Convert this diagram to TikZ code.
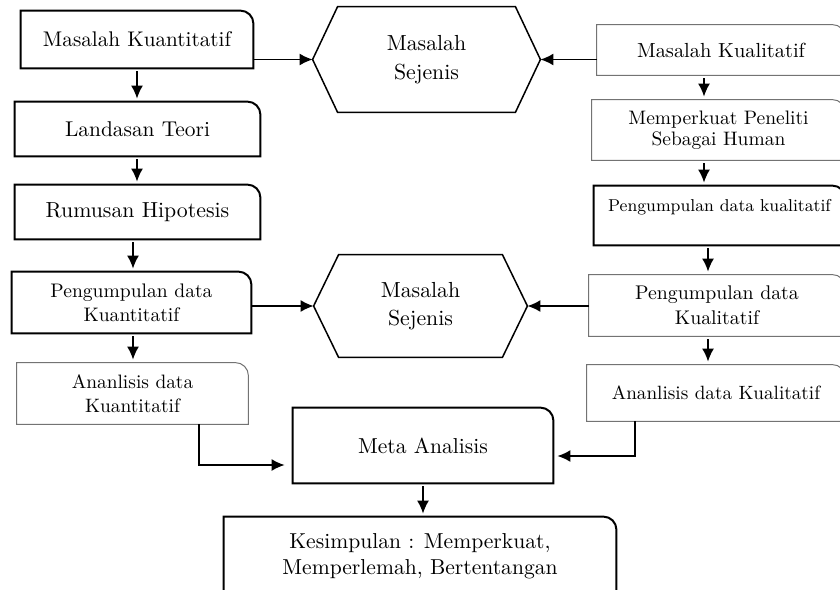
\documentclass[tikz,border=0pt]{standalone}
\usetikzlibrary{arrows.meta}

% kotak dengan satu sudut kanan atas membulat
\newcommand{\sudutbox}[2]{\draw[#1] (#2.south west) -- (#2.north west) -- ([xshift=-6.5pt]#2.north east)
  arc[start angle=90,end angle=0,radius=6.5pt] -- (#2.south east) -- cycle;}
% segi enam untuk masalah sejenis
\newcommand{\hexbox}[1]{\draw[line width=0.75pt] (#1.west) -- ([xshift=12.5pt]#1.north west) -- ([xshift=-12.5pt]#1.north east)
  -- (#1.east) -- ([xshift=-12.5pt]#1.south east) -- ([xshift=12.5pt]#1.south west) -- cycle;}

\begin{document}
\begin{tikzpicture}[x=0.5pt, y=-0.5pt, >={Latex[length=6.5pt,width=6pt]},
  kotak/.style={inner sep=0pt, align=center},
  teks/.style 2 args={font=\fontsize{#1}{#2}\selectfont},
  tebal/.style={line width=1pt},
  tipis/.style={line width=0.5pt, draw=black!55},
  panah/.style={->, line width=0.8pt},
  turun/.style={panah, shorten <=1.5pt, shorten >=1.5pt}]
  \useasboundingbox (0,0) rectangle (840,589);

  % kolom kuantitatif
  \node[kotak, teks={10.6}{13}, minimum width=116pt, minimum height=28.5pt] (mkuan) at (137,39.5) {Masalah Kuantitatif};
  \node[kotak, teks={10.7}{13}, minimum width=122.5pt, minimum height=27pt] (teori) at (137.5,129) {Landasan Teori};
  \node[kotak, teks={10.9}{13}, minimum width=122.5pt, minimum height=27pt] (hipotesis) at (137.5,212) {Rumusan Hipotesis};
  \node[kotak, teks={9.8}{12}, minimum width=119.5pt, minimum height=30.5pt] (datakuan) at (131.5,302.5) {Pengumpulan data\\Kuantitatif};
  \node[kotak, teks={9.7}{12}, minimum width=115.5pt, minimum height=30.5pt] (analisiskuan) at (132.5,393.5) {Ananlisis data\\Kuantitatif};

  % kolom kualitatif
  \node[kotak, teks={10.2}{13}, minimum width=124pt, minimum height=25pt] (mkual) at (721,50) {Masalah Kualitatif};
  \node[kotak, teks={9.75}{10.5}, minimum width=126.5pt, minimum height=30pt] (peneliti) at (718.5,130) {Memperkuat Peneliti\\Sebagai Human};
  \node[kotak, teks={8.6}{10.5}, minimum width=125.5pt, minimum height=29.5pt] (datakual) at (719.5,215.5) {Pengumpulan data kualitatif\\\mbox{}};
  \node[kotak, teks={9.9}{12.5}, minimum width=128pt, minimum height=30.5pt] (datakualB) at (717,305.5) {Pengumpulan data\\Kualitatif};
  \node[kotak, teks={9.6}{12}, minimum width=129pt, minimum height=28pt] (analisiskual) at (716,393) {Ananlisis data Kualitatif};

  % tengah
  \node[kotak, teks={10.9}{14.5}, minimum width=113.5pt, minimum height=52.5pt] (sejenisA) at (426.5,59.5) {Masalah\\Sejenis};
  \node[kotak, teks={10.9}{14}, minimum width=106.5pt, minimum height=51pt] (sejenisB) at (420.5,306) {Masalah\\Sejenis};
  \node[kotak, teks={10.8}{13}, minimum width=130pt, minimum height=37.5pt] (meta) at (423,445.5) {Meta Analisis};
  \node[kotak, teks={10.8}{13}, minimum width=196pt, minimum height=39pt] (simpulan) at (420,556) {Kesimpulan : Memperkuat,\\Memperlemah, Bertentangan};

  \sudutbox{tebal}{mkuan}
  \sudutbox{tebal}{teori}
  \sudutbox{tebal}{hipotesis}
  \sudutbox{tebal}{datakuan}
  \sudutbox{tipis}{analisiskuan}
  \sudutbox{tipis}{mkual}
  \sudutbox{tipis}{peneliti}
  \sudutbox{tebal}{datakual}
  \sudutbox{tipis}{datakualB}
  \sudutbox{tipis}{analisiskual}
  \sudutbox{tebal}{meta}
  \sudutbox{tebal}{simpulan}
  \hexbox{sejenisA}
  \hexbox{sejenisB}

  % titik bantu
  \coordinate (xa) at (137,0);
  \coordinate (xb) at (133,0);
  \coordinate (xc) at (704,0);
  \coordinate (xd) at (708,0);
  \coordinate (xe) at (199,0);
  \coordinate (xf) at (635,0);
  \coordinate (ya) at (0,465);
  \coordinate (yb) at (0,456);

  % panah
  \draw[panah] (mkuan.east |- sejenisA.west) -- (sejenisA.west);
  \draw[panah] (mkual.west |- sejenisA.east) -- (sejenisA.east);
  \draw[panah] (datakuan.east |- sejenisB.west) -- (sejenisB.west);
  \draw[panah] (datakualB.west |- sejenisB.east) -- (sejenisB.east);
  \draw[turun] (xa |- mkuan.south) -- (xa |- teori.north);
  \draw[turun] (xa |- teori.south) -- (xa |- hipotesis.north);
  \draw[turun] (xb |- hipotesis.south) -- (xb |- datakuan.north);
  \draw[turun] (xb |- datakuan.south) -- (xb |- analisiskuan.north);
  \draw[turun] (xc |- mkual.south) -- (xc |- peneliti.north);
  \draw[turun] (xc |- peneliti.south) -- (xc |- datakual.north);
  \draw[turun] (xd |- datakual.south) -- (xd |- datakualB.north);
  \draw[turun] (xd |- datakualB.south) -- (xd |- analisiskual.north);
  \draw[panah, shorten >=4pt] (xe |- analisiskuan.south) |- (meta.west |- ya);
  \draw[panah, shorten >=2pt] (xf |- analisiskual.south) |- (meta.east |- yb);
  \draw[turun] (meta.south) -- (meta.south |- simpulan.north);
\end{tikzpicture}
\end{document}
